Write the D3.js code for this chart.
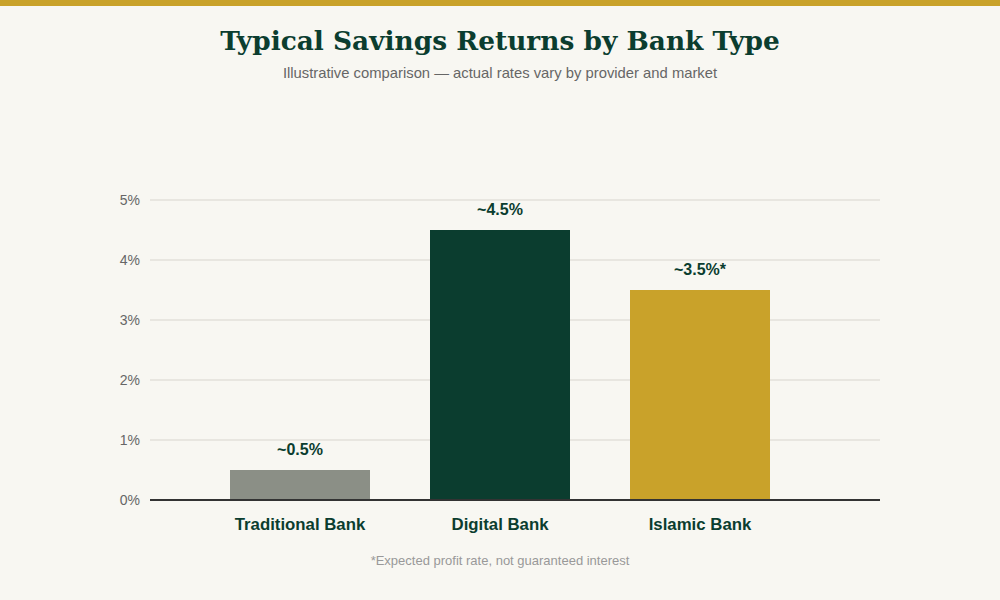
<!DOCTYPE html>
<html>
<head>
<meta charset="utf-8">
<script src="https://cdn.jsdelivr.net/npm/d3@7"></script>
<style>
  body { margin: 0; background: #f8f7f2; }
  svg { display: block; }
</style>
</head>
<body>
<script>
// chart data
var banks = ["Traditional Bank", "Digital Bank", "Islamic Bank"];
var rates = [0.5, 4.5, 3.5];
var rateLabels = ["~0.5%", "~4.5%", "~3.5%*"];
var barColors = ["#8b8f86", "#0b3d2f", "#c9a22a"];
var yTicks = [0, 1, 2, 3, 4, 5];

var w = 1000, h = 600;

var svg = d3.select("body").append("svg")
  .attr("width", w)
  .attr("height", h);

svg.append("rect").attr("width", w).attr("height", h).attr("fill", "#f8f7f2");
svg.append("rect").attr("width", w).attr("height", 6).attr("fill", "#c9a22a");

svg.append("text")
  .attr("x", w / 2).attr("y", 50)
  .attr("text-anchor", "middle")
  .attr("font-family", "DejaVu Serif")
  .attr("font-weight", "bold")
  .attr("font-size", 26.4)
  .attr("fill", "#0b3d2f")
  .text("Typical Savings Returns by Bank Type");

svg.append("text")
  .attr("x", w / 2).attr("y", 78)
  .attr("text-anchor", "middle")
  .attr("font-family", "Liberation Sans")
  .attr("font-size", 14.8)
  .attr("fill", "#666")
  .text("Illustrative comparison \u2014 actual rates vary by provider and market");

var x = d3.scaleBand()
  .domain(banks)
  .range([200, 800])
  .paddingInner(0.3)
  .paddingOuter(0.15);

var y = d3.scaleLinear().domain([0, 5]).range([500, 200]);

// gridlines
svg.append("g").selectAll("line")
  .data(yTicks.filter(function (d) { return d > 0; }))
  .enter().append("line")
  .attr("x1", 150).attr("x2", 880)
  .attr("y1", function (d) { return y(d); })
  .attr("y2", function (d) { return y(d); })
  .attr("stroke", "#e8e6e0")
  .attr("stroke-width", 2);

// y axis labels
var yAxis = d3.axisLeft(y).tickValues(yTicks)
  .tickFormat(function (d) { return d + "%"; })
  .tickSize(0).tickPadding(10);
var gy = svg.append("g").attr("transform", "translate(150,0)").call(yAxis);
gy.select(".domain").remove();
gy.selectAll("text")
  .attr("font-family", "Liberation Sans")
  .attr("font-size", 14)
  .attr("fill", "#666");

// bars
svg.append("g").selectAll("rect")
  .data(banks)
  .enter().append("rect")
  .attr("x", function (d) { return x(d); })
  .attr("width", x.bandwidth())
  .attr("y", function (d, i) { return y(rates[i]); })
  .attr("height", function (d, i) { return y(0) - y(rates[i]); })
  .attr("fill", function (d, i) { return barColors[i]; });

// value labels
svg.append("g").selectAll("text")
  .data(banks)
  .enter().append("text")
  .attr("x", function (d) { return x(d) + x.bandwidth() / 2; })
  .attr("y", function (d, i) { return y(rates[i]) - 15; })
  .attr("text-anchor", "middle")
  .attr("font-family", "Liberation Sans")
  .attr("font-weight", "bold")
  .attr("font-size", 16)
  .attr("fill", "#0b3d2f")
  .text(function (d, i) { return rateLabels[i]; });

// baseline
svg.append("line")
  .attr("x1", 150).attr("x2", 880)
  .attr("y1", 500).attr("y2", 500)
  .attr("stroke", "#333")
  .attr("stroke-width", 2);

// x labels
var xAxis = d3.axisBottom(x).tickSize(0).tickPadding(18);
var gx = svg.append("g").attr("transform", "translate(0,500)").call(xAxis);
gx.select(".domain").remove();
gx.selectAll("text")
  .attr("font-family", "Liberation Sans")
  .attr("font-weight", "bold")
  .attr("font-size", 16.8)
  .attr("fill", "#0b3d2f");

svg.append("text")
  .attr("x", w / 2).attr("y", 565)
  .attr("text-anchor", "middle")
  .attr("font-family", "Liberation Sans")
  .attr("font-size", 13)
  .attr("fill", "#999")
  .text("*Expected profit rate, not guaranteed interest");
</script>
</body>
</html>
